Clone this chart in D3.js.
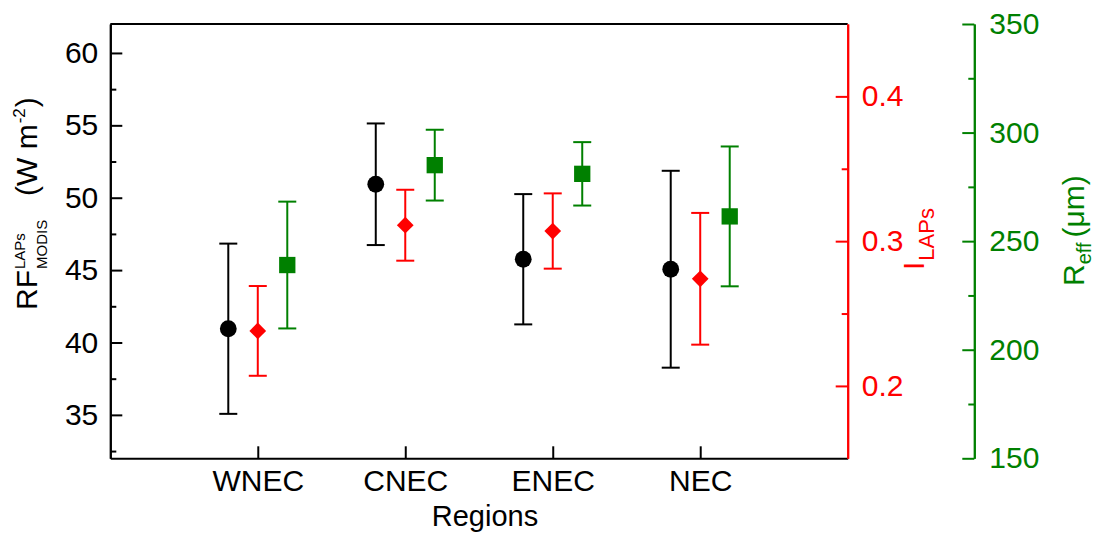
<!DOCTYPE html>
<html>
<head>
<meta charset="utf-8">
<script src="https://cdn.jsdelivr.net/npm/d3@7"></script>
<style>
  body { margin: 0; background: #fff; }
  svg text { font-family: "Liberation Sans", Arial, sans-serif; }
</style>
</head>
<body>
<svg id="chart" width="1097" height="541"></svg>
<script>
// data (mean +/- error)
const regions = ["WNEC", "CNEC", "ENEC", "NEC"];
const rfMean = [40.95, 50.93, 45.75, 45.06];
const rfErr = [5.88, 4.2, 4.5, 6.8];
const lapsMean = [0.238, 0.311, 0.307, 0.274];
const lapsErr = [0.031, 0.0245, 0.026, 0.0455];
const reffMean = [239, 285, 281, 261.4];
const reffErr = [29.2, 16.3, 14.6, 32.2];

const leftTicks = [35, 40, 45, 50, 55, 60];
const leftMinor = [32.5, 37.5, 42.5, 47.5, 52.5, 57.5];
const redTicks = [0.2, 0.3, 0.4];
const redMinor = [0.25, 0.35];
const greenTicks = [150, 200, 250, 300, 350];
const greenMinor = [175, 225, 275, 325];

const RED = "#ff0000", GREEN = "#008000", BLACK = "#000";

const svg = d3.select("#chart");
const plotL = 110.3, plotR = 847.7, plotT = 24, plotB = 458.3;
const greenX = 974.3;

const x = d3.scaleLinear().domain([0, 5]).range([plotL, plotR]);
const yL = d3.scaleLinear().domain([32, 62]).range([plotB, plotT]);
const yR = d3.scaleLinear().domain([0.15, 0.45]).range([plotB, plotT]);
const yG = d3.scaleLinear().domain([150, 350]).range([plotB, plotT]);

function styleAxis(g, color, size) {
  g.select(".domain").attr("stroke", color).attr("stroke-width", 2);
  g.selectAll(".tick line").attr("stroke", color).attr("stroke-width", 2);
  g.selectAll(".tick text").attr("fill", color).attr("font-size", size)
    .style("font-family", '"Liberation Sans", Arial, sans-serif');
}

// top frame line
svg.append("line")
  .attr("x1", plotL).attr("x2", plotR).attr("y1", plotT).attr("y2", plotT)
  .attr("stroke", BLACK).attr("stroke-width", 2);

// left axis
svg.append("g").attr("transform", `translate(${plotL},0)`)
  .call(d3.axisLeft(yL).tickValues(leftMinor).tickSize(-6).tickSizeOuter(0).tickFormat(""))
  .call(g => styleAxis(g, BLACK, 30));
svg.append("g").attr("transform", `translate(${plotL},0)`)
  .call(d3.axisLeft(yL).tickValues(leftTicks).tickSize(-12).tickSizeOuter(0).tickPadding(12))
  .call(g => styleAxis(g, BLACK, 30));

// bottom axis
svg.append("g").attr("transform", `translate(0,${plotB})`)
  .call(d3.axisBottom(x).tickValues([1, 2, 3, 4]).tickSize(-12).tickSizeOuter(0)
    .tickPadding(11).tickFormat(d => regions[d - 1]))
  .call(g => styleAxis(g, BLACK, 30));

// red right axis
svg.append("g").attr("transform", `translate(${plotR},0)`)
  .call(d3.axisRight(yR).tickValues(redMinor).tickSize(-6).tickSizeOuter(0).tickFormat(""))
  .call(g => styleAxis(g, RED, 30));
svg.append("g").attr("transform", `translate(${plotR},0)`)
  .call(d3.axisRight(yR).tickValues(redTicks).tickSize(-12).tickSizeOuter(0).tickPadding(14)
    .tickFormat(d3.format(".1f")))
  .call(g => styleAxis(g, RED, 30));

// green offset axis
svg.append("g").attr("transform", `translate(${greenX},0)`)
  .call(d3.axisRight(yG).tickValues(greenMinor).tickSize(-6).tickSizeOuter(0).tickFormat(""))
  .call(g => styleAxis(g, GREEN, 30));
svg.append("g").attr("transform", `translate(${greenX},0)`)
  .call(d3.axisRight(yG).tickValues(greenTicks).tickSize(-12).tickSizeOuter(0).tickPadding(15))
  .call(g => styleAxis(g, GREEN, 30));

// error bars + markers
const series = [
  { mean: rfMean, err: rfErr, y: yL, color: BLACK, off: -0.2, shape: "circle" },
  { mean: lapsMean, err: lapsErr, y: yR, color: RED, off: 0, shape: "diamond" },
  { mean: reffMean, err: reffErr, y: yG, color: GREEN, off: 0.2, shape: "square" }
];
const cap = 9;

series.forEach(s => {
  const rows = regions.map((r, i) => ({ i: i + 1, m: s.mean[i], e: s.err[i] }));
  const g = svg.append("g");
  const bars = g.selectAll("g.eb").data(rows).join("g").attr("class", "eb")
    .attr("stroke", s.color).attr("stroke-width", 2);
  bars.append("line")
    .attr("x1", d => x(d.i + s.off)).attr("x2", d => x(d.i + s.off))
    .attr("y1", d => s.y(d.m - d.e)).attr("y2", d => s.y(d.m + d.e));
  bars.append("line")
    .attr("x1", d => x(d.i + s.off) - cap).attr("x2", d => x(d.i + s.off) + cap)
    .attr("y1", d => s.y(d.m + d.e)).attr("y2", d => s.y(d.m + d.e));
  bars.append("line")
    .attr("x1", d => x(d.i + s.off) - cap).attr("x2", d => x(d.i + s.off) + cap)
    .attr("y1", d => s.y(d.m - d.e)).attr("y2", d => s.y(d.m - d.e));

  if (s.shape === "circle") {
    g.selectAll("circle").data(rows).join("circle")
      .attr("cx", d => x(d.i + s.off)).attr("cy", d => s.y(d.m))
      .attr("r", 8.4).attr("fill", s.color);
  } else if (s.shape === "diamond") {
    g.selectAll("path.mk").data(rows).join("path").attr("class", "mk")
      .attr("d", d3.symbol(d3.symbolSquare, 140)())
      .attr("transform", d => `translate(${x(d.i + s.off)},${s.y(d.m)}) rotate(45)`)
      .attr("fill", s.color);
  } else {
    g.selectAll("path.mk").data(rows).join("path").attr("class", "mk")
      .attr("d", d3.symbol(d3.symbolSquare, 266)())
      .attr("transform", d => `translate(${x(d.i + s.off)},${s.y(d.m)})`)
      .attr("fill", s.color);
  }
});

// x title
svg.append("text").attr("x", 485).attr("y", 526).attr("text-anchor", "middle")
  .attr("font-size", 29).attr("fill", BLACK).text("Regions");

// helper: place rotated pieces one after another
function rotatedTitle(tx, ty, pieces, color) {
  const g = svg.append("g").attr("transform", `translate(${tx},${ty}) rotate(-90)`);
  let pos = 0;
  pieces.forEach(p => {
    const px = pos + (p.dx || 0);
    const t = g.append("text").attr("x", px)
      .attr("y", p.dy || 0).attr("font-size", p.size).attr("fill", color).text(p.text);
    pos = px + t.node().getComputedTextLength();
  });
  return g;
}

// left title: RF^LAPs_MODIS (W m^-2)
(function () {
  const g = svg.append("g").attr("transform", "translate(36.7,310) rotate(-90)");
  const rf = g.append("text").attr("font-size", 30).attr("fill", BLACK).text("RF");
  const w = rf.node().getComputedTextLength();
  g.append("text").attr("x", w + 1).attr("y", -12).attr("font-size", 15).attr("fill", BLACK).text("LAPs");
  g.append("text").attr("x", w + 1).attr("y", 10).attr("font-size", 15).attr("fill", BLACK).text("MODIS");
  const a = g.append("text").attr("x", 114).attr("font-size", 30).attr("fill", BLACK).text("(W m");
  const aw = a.node().getComputedTextLength();
  const sup = g.append("text").attr("x", 114 + aw + 1).attr("y", -12).attr("font-size", 17).attr("fill", BLACK).text("-2");
  const sw = sup.node().getComputedTextLength();
  g.append("text").attr("x", 114 + aw + 1 + sw + 1).attr("font-size", 30).attr("fill", BLACK).text(")");
})();

// red title: I_LAPs
rotatedTitle(924, 270, [
  { text: "I", size: 30 },
  { text: "LAPs", size: 22, dy: 10, dx: 1 }
], RED);

// green title: R_eff (µm)
rotatedTitle(1084, 286, [
  { text: "R", size: 30 },
  { text: "eff", size: 20, dy: 7, dx: 0 },
  { text: "(\u03bcm)", size: 30, dx: 5 }
], GREEN);
</script>
</body>
</html>
